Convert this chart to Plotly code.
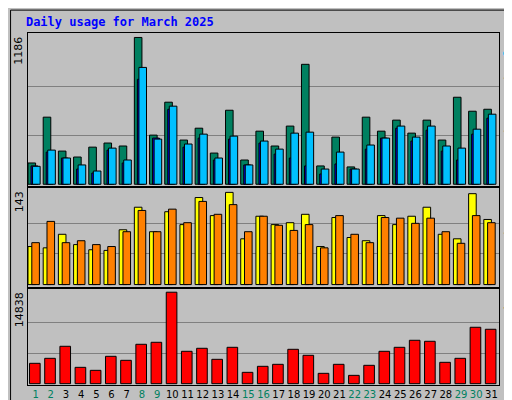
import plotly.graph_objects as go
from plotly.subplots import make_subplots

days = list(range(1, 32))
weekend = [1, 2, 8, 9, 15, 16, 22, 23, 29, 30]

hits = [172, 542, 268, 220, 300, 333, 309, 1186, 397, 663, 357, 453, 252, 598, 196, 429,
        309, 470, 969, 148, 381, 140, 542, 429, 518, 413, 518, 357, 703, 590, 606]
files = [148, 260, 212, 123, 91, 276, 172, 848, 373, 606, 300, 373, 196, 365, 156, 333,
         244, 212, 148, 83, 164, 123, 284, 373, 453, 349, 437, 268, 196, 405, 534]
pages = [145, 276, 212, 156, 107, 292, 196, 944, 365, 631, 325, 405, 212, 389, 156, 349,
         284, 413, 421, 123, 260, 123, 317, 373, 470, 381, 470, 309, 292, 445, 566]
visits = [59, 57, 78, 62, 54, 53, 85, 120, 82, 113, 93, 135, 107, 143, 71, 106,
          93, 96, 109, 59, 104, 73, 68, 107, 93, 106, 120, 78, 71, 141, 101]
sites = [65, 98, 65, 68, 62, 59, 82, 115, 82, 117, 96, 129, 109, 124, 82, 106,
         92, 84, 93, 57, 107, 78, 65, 104, 103, 95, 103, 82, 64, 107, 96]
kbytes = [3303, 4115, 6065, 2653, 2166, 4440, 3790, 6390, 6715, 14838, 5253, 5740, 3953,
          5902, 1841, 2816, 3141, 5577, 4603, 1679, 3141, 1354, 2978, 5253, 5902, 7040,
          6877, 3466, 4115, 9151, 8826]

fig = make_subplots(rows=3, cols=1, shared_xaxes=True, vertical_spacing=0)
line = dict(color="black", width=1)

fig.add_trace(go.Bar(x=days, y=hits, width=0.5, offset=-0.5, marker=dict(color="#008060", line=line)), 1, 1)
fig.add_trace(go.Bar(x=days, y=files, width=0.45, offset=-0.3, marker=dict(color="#0000FF", line=line)), 1, 1)
fig.add_trace(go.Bar(x=days, y=pages, width=0.5, offset=-0.2, marker=dict(color="#00C0FF", line=line)), 1, 1)
fig.add_trace(go.Bar(x=days, y=visits, width=0.5, offset=-0.5, marker=dict(color="#FFFF00", line=line)), 2, 1)
fig.add_trace(go.Bar(x=days, y=sites, width=0.5, offset=-0.25, marker=dict(color="#FF8000", line=line)), 2, 1)
fig.add_trace(go.Bar(x=days, y=kbytes, width=0.7, offset=-0.4, marker=dict(color="#FF0000", line=line)), 3, 1)

mono = "DejaVu Sans Mono"
fig.update_layout(
    barmode="overlay", showlegend=False, width=512, height=400,
    paper_bgcolor="#C0C0C0", plot_bgcolor="#C0C0C0",
    margin=dict(l=20, r=21, t=25, b=23, autoexpand=False),
    yaxis=dict(domain=[0.565, 1]), yaxis2=dict(domain=[0.278, 0.56]), yaxis3=dict(domain=[0, 0.273]),
    title=dict(text="<b>Daily usage for March 2025</b>", x=0.035, xanchor="left", y=0.975,
               font=dict(family=mono, size=12, color="#0000FF")),
)
ticktext = ["<span style='color:%s'>%d</span>" % ("#008060" if d in weekend else "black", d) for d in days]
fig.update_xaxes(range=[0.5, 31.5], showgrid=False, zeroline=False, showline=True, linecolor="black",
                 mirror=True, tickvals=days, ticktext=ticktext, ticks="", tickangle=0,
                 tickfont=dict(family="DejaVu Sans", size=10))
for r, mx, lo, hi in [(1, 1186, -15, 1222), (2, 143, -4, 150), (3, 14838, -213, 15374)]:
    fig.update_yaxes(row=r, col=1, range=[lo, hi], tickvals=[mx / 3, 2 * mx / 3], showticklabels=False,
                     gridcolor="#808080", zeroline=False, showline=True, linecolor="black", mirror=True)

ann = [("1186", 1), ("143", 0.56), ("14838", 0.273)]
for t, y in ann:
    fig.add_annotation(text=t, xref="paper", yref="paper", x=0, y=y - 0.005, xshift=-9, xanchor="center",
                       yanchor="top", textangle=-90, showarrow=False,
                       font=dict(family="DejaVu Sans", size=11, color="black"))
right = [
    ("<span style='color:#00C0FF'>Pages</span> / <span style='color:#0000FF'>Files</span> / "
     "<span style='color:#008060'>Hits</span>", 1),
    ("<span style='color:#FF8000'>Sites</span> / <span style='color:#FFFF00'>Visits</span>", 0.56),
    ("<span style='color:#FF0000'>KBytes</span>", 0.273),
]
for t, y in right:
    fig.add_annotation(text=t, xref="paper", yref="paper", x=1, y=y - 0.005, xshift=10, xanchor="center",
                       yanchor="top", textangle=90, showarrow=False,
                       font=dict(family=mono, size=11, color="black"))
fig.add_shape(type="rect", xref="paper", yref="paper", x0=-0.037, x1=1.04, y0=-0.06, y1=1.065,
              line=dict(color="black", width=1))

fig.write_html("out.html")
